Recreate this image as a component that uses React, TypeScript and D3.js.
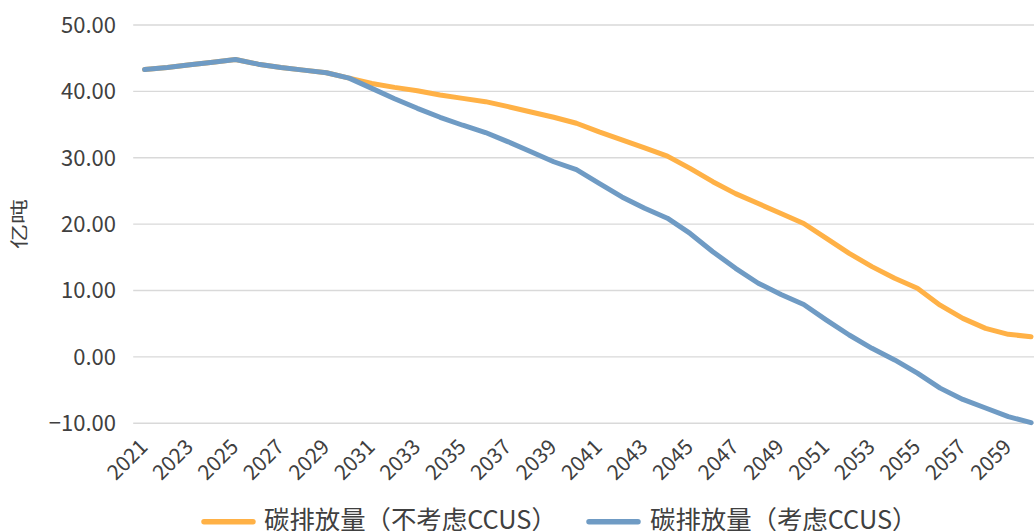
import React from "react";
import * as d3 from "d3";

// years on the category axis
const years = [
  2021, 2022, 2023, 2024, 2025, 2026, 2027, 2028, 2029, 2030,
  2031, 2032, 2033, 2034, 2035, 2036, 2037, 2038, 2039, 2040,
  2041, 2042, 2043, 2044, 2045, 2046, 2047, 2048, 2049, 2050,
  2051, 2052, 2053, 2054, 2055, 2056, 2057, 2058, 2059, 2060,
];

// 碳排放量（不考虑CCUS）
const noCcus = [
  43.3, 43.6, 44.0, 44.4, 44.8, 44.1, 43.6, 43.2, 42.8, 42.0,
  41.2, 40.6, 40.1, 39.45, 38.95, 38.45, 37.7, 36.9, 36.1, 35.2,
  33.9, 32.7, 31.5, 30.25, 28.4, 26.4, 24.6, 23.1, 21.6, 20.1,
  17.85, 15.6, 13.6, 11.85, 10.35, 7.8, 5.8, 4.3, 3.4, 3.05,
];

// 碳排放量（考虑CCUS）
const withCcus = [
  43.3, 43.6, 44.0, 44.4, 44.8, 44.1, 43.6, 43.2, 42.8, 42.0,
  40.45, 38.9, 37.45, 36.1, 34.9, 33.8, 32.4, 30.9, 29.4, 28.2,
  26.15, 24.1, 22.4, 20.9, 18.6, 15.85, 13.35, 11.1, 9.4, 7.9,
  5.55, 3.3, 1.3, -0.45, -2.45, -4.7, -6.4, -7.7, -9.0, -9.9,
];

const yTicks = [-10, 0, 10, 20, 30, 40, 50];
const xTickYears = [
  2021, 2023, 2025, 2027, 2029, 2031, 2033, 2035, 2037, 2039,
  2041, 2043, 2045, 2047, 2049, 2051, 2053, 2055, 2057, 2059,
];

const seriesNames = ["碳排放量（不考虑CCUS）", "碳排放量（考虑CCUS）"];
const colors = ["#FFB146", "#6F9BC4"];

const width = 1034;
const height = 531;
const font = "'Noto Sans CJK SC', 'Noto Sans', sans-serif";

export default function App() {
  const x = d3
    .scaleBand<number>()
    .domain(years)
    .range([133.2, 1042.4]);
  const cx = (yr: number) => (x(yr) as number) + x.bandwidth() / 2;

  const y = d3.scaleLinear().domain([-10, 50]).range([423.3, 25]);
  const fmt = d3.format(".2f");

  const line = d3
    .line<number>()
    .x((_, i) => cx(years[i]))
    .y((d) => y(d));

  const series = [noCcus, withCcus];

  return (
    <svg
      width={width}
      height={height}
      style={{ position: "fixed", left: 0, top: 0, background: "#fff" }}
      fontFamily={font}
    >
      {/* gridlines */}
      <g>
        {yTicks.map((t) => (
          <line
            key={t}
            x1={133.2}
            x2={width}
            y1={y(t)}
            y2={y(t)}
            stroke="#D9D9D9"
            strokeWidth={1.4}
          />
        ))}
      </g>

      {/* y axis labels */}
      <g fill="#404040" fontSize={22} textAnchor="end">
        {yTicks.map((t) => (
          <text key={t} x={116} y={y(t)} dy="0.36em">
            {fmt(t)}
          </text>
        ))}
      </g>

      {/* y title - squashed like the original */}
      <text
        transform={`translate(19.2,224) rotate(-90) scale(1,0.72)`}
        textAnchor="middle"
        dy="0.38em"
        fontSize={25}
        fill="#404040"
      >
        亿吨
      </text>

      {/* x axis labels */}
      <g fill="#404040" fontSize={21} textAnchor="end">
        {xTickYears.map((yr) => (
          <text
            key={yr}
            transform={`translate(${cx(yr) - 1},443) rotate(-45)`}
            dy="0.36em"
          >
            {yr}
          </text>
        ))}
      </g>

      {/* lines */}
      {series.map((s, i) => (
        <path
          key={i}
          d={line(s) as string}
          fill="none"
          stroke={colors[i]}
          strokeWidth={5}
          strokeLinejoin="round"
          strokeLinecap="round"
        />
      ))}

      {/* legend */}
      <g fontSize={25.4} fill="#404040">
        <line x1={204} x2={253} y1={521.7} y2={521.7} stroke={colors[0]} strokeWidth={5.5} strokeLinecap="round" />
        <text x={264} y={528.5}>{seriesNames[0]}</text>
        <line x1={589} x2={638} y1={521.7} y2={521.7} stroke={colors[1]} strokeWidth={5.5} strokeLinecap="round" />
        <text x={650} y={528.5}>{seriesNames[1]}</text>
      </g>
    </svg>
  );
}
